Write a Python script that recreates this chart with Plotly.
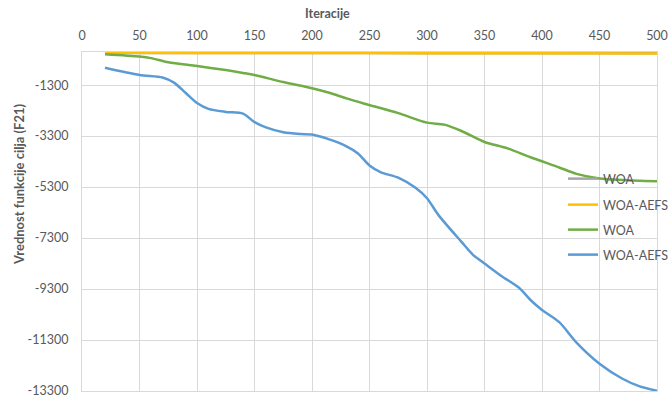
import plotly.graph_objects as go

# ---- data ----
gray_x = [20, 100, 200, 300, 400, 500]
gray_y = [-40, -40, -40, -45, -50, -50]

yellow_x = [20, 100, 200, 300, 400, 500]
yellow_y = [-30, -35, -40, -45, -50, -55]

green_x = [20, 50, 60, 75, 100, 125, 140, 150, 175, 200, 215, 230, 245, 275, 300, 315,
           330, 350, 370, 390, 415, 430, 450, 470, 500]
green_y = [-90, -180, -240, -400, -550, -710, -820, -900, -1180, -1420, -1600, -1820, -2020,
           -2400, -2770, -2850, -3100, -3530, -3780, -4130, -4530, -4780, -4960, -5020, -5070]

blue_x = [20, 50, 70, 80, 90, 100, 110, 125, 140, 150, 160, 175, 190, 200, 215, 230, 240, 250,
          260, 275, 290, 300, 310, 330, 340, 350, 365, 380, 390, 400, 415, 430, 450, 470, 485, 500]
blue_y = [-620, -900, -1000, -1200, -1600, -2000, -2230, -2350, -2420, -2750, -2960, -3150,
          -3220, -3240, -3430, -3700, -3980, -4450, -4720, -4930, -5330, -5740, -6400, -7450,
          -7960, -8300, -8800, -9250, -9730, -10120, -10600, -11400, -12230, -12820, -13120, -13290]

x_ticks = [0, 50, 100, 150, 200, 250, 300, 350, 400, 450, 500]
y_ticks = [-1300, -3300, -5300, -7300, -9300, -11300, -13300]
y_tick_labels = ["-1300", "-3300", "-5300", "-7300", "-9300", "-11300", "-13300"]

series = [
    ("WOA", gray_x, gray_y, "#a5a5a5"),
    ("WOA-AEFS", yellow_x, yellow_y, "#ffc000"),
    ("WOA", green_x, green_y, "#70ad47"),
    ("WOA-AEFS", blue_x, blue_y, "#5b9bd5"),
]

FONT = "Lato"
TXT = "#595959"
GRID = "#d9d9d9"

fig = go.Figure()
legend_names = ["legend", "legend2", "legend3", "legend4"]
for (name, xs, ys, col), lg in zip(series, legend_names):
    fig.add_trace(go.Scatter(x=xs, y=ys, name=name, mode="lines",
                             line=dict(color=col, width=2.5, shape="spline", smoothing=0.8),
                             legend=lg))

W, H = 668, 398
ml, mr, mt, mb = 82, 11, 52, 7
pw, ph = W - ml - mr, H - mt - mb

def py(pix):
    return (H - mb - pix) / ph

legend_common = dict(bgcolor="rgba(0,0,0,0)", font=dict(family=FONT, size=12.5, color=TXT),
                     xanchor="left", yanchor="middle", x=(563 - ml) / pw, itemwidth=30)
layout_legends = {}
for lg, ypix in zip(legend_names, [179, 205, 230, 255]):
    d = dict(legend_common)
    d["y"] = py(ypix)
    layout_legends[lg] = d

fig.update_layout(
    width=W, height=H,
    margin=dict(l=ml, r=mr, t=mt, b=mb, autoexpand=False),
    paper_bgcolor="white", plot_bgcolor="white",
    font=dict(family=FONT, size=12.5, color=TXT),
    showlegend=True,
    xaxis=dict(range=[0, 500], side="top", tickvals=x_ticks, showgrid=True, gridcolor=GRID,
               gridwidth=1, showline=True, linecolor=GRID, mirror=True, zeroline=False,
               ticks="", ticklabelstandoff=6, tickfont=dict(family=FONT, size=12.5, color=TXT)),
    yaxis=dict(range=[-13301, 0], tickvals=y_ticks, ticktext=y_tick_labels, showgrid=True,
               gridcolor=GRID, gridwidth=1, showline=True, linecolor=GRID, mirror=True,
               zeroline=False, ticks="", ticklabelstandoff=10, ticklabeloverflow="allow",
               tickfont=dict(family=FONT, size=12.5, color=TXT)),
    annotations=[
        dict(text="<b>Iteracije</b>", xref="paper", yref="paper", x=(327 - ml) / pw,
             y=py(13), xanchor="center", yanchor="middle", showarrow=False,
             font=dict(family=FONT, size=12.5, color=TXT)),
        dict(text="<b>Vrednost funkcije cilja (F21)</b>", xref="paper", yref="paper",
             x=(19 - ml) / pw, y=py(184), xanchor="center", yanchor="middle", textangle=-90,
             showarrow=False, font=dict(family=FONT, size=13, color=TXT)),
    ],
    **layout_legends,
)

fig.write_html("out.html")
